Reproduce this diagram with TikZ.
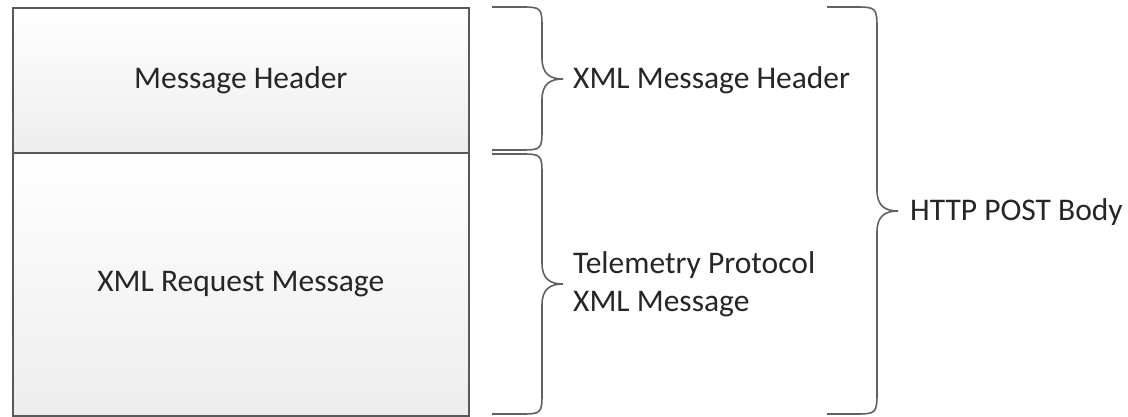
\documentclass[tikz,border=0pt]{standalone}
\usepackage{fontspec}
\setmainfont{Carlito}
\begin{document}
\begin{tikzpicture}[x=1pt,y=-1pt,
  sect/.style={draw=black!65, line width=1.6pt, top color=white, bottom color=black!7, inner sep=0pt, anchor=north west, font=\fontsize{31.5}{38}\selectfont, text=black!85},
  brc/.style={draw=black!62, line width=1.6pt},
  lbl/.style={anchor=west, inner sep=0pt, align=left, font=\fontsize{31.5}{38}\selectfont, text=black!85}]
\useasboundingbox (0,0) rectangle (1128,417);
\node[sect, minimum width=456pt, minimum height=145pt] (hdr) at (12,7) {Message Header};
\node[sect, minimum width=456pt, minimum height=263pt] (req) at (12,152) {XML Request Message};
% brace 1
\coordinate (b1t) at (492,7);
\coordinate (b1b) at (492,150);
\draw[brc] (b1t) -- (519,7) .. controls (542,7) .. (542,30) -- (542,58)
  .. controls (542,74) and (550,79) .. (563,79) .. controls (550,79) and (542,84) .. (542,100)
  -- (542,127) .. controls (542,150) .. (519,150) -- (b1b);
\node[lbl] (xmh) at (573,80) {XML Message Header};
% brace 2
\coordinate (b2t) at (492,154);
\coordinate (b2b) at (492,414);
\draw[brc] (b2t) -- (519,154) .. controls (542,154) .. (542,177) -- (542,263)
  .. controls (542,279) and (550,284) .. (563,284) .. controls (550,284) and (542,289) .. (542,305)
  -- (542,391) .. controls (542,414) .. (519,414) -- (b2b);
\node[lbl] (tpx) at (573,284) {Telemetry Protocol\\XML Message};
% brace 3
\coordinate (b3t) at (827,7);
\coordinate (b3b) at (827,414);
\draw[brc] (b3t) -- (853,7) .. controls (877,7) .. (877,31) -- (877,190)
  .. controls (877,206) and (885,211) .. (898,211) .. controls (885,211) and (877,216) .. (877,232)
  -- (877,390) .. controls (877,414) .. (853,414) -- (b3b);
\node[lbl] (hpb) at (910,212) {HTTP POST Body};
\end{tikzpicture}
\end{document}
